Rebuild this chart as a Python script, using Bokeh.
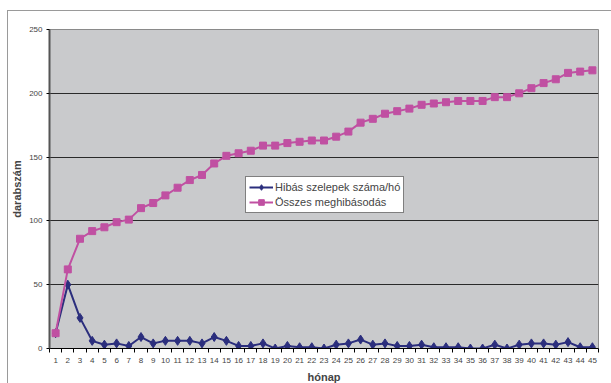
from bokeh.plotting import figure
from bokeh.models import FixedTicker, Legend, LegendItem, Range1d
from bokeh.embed import file_html
from bokeh.resources import INLINE

# Months 1..45
months = list(range(1, 46))

# Failed valves per month
hibas = [12, 50, 24, 6, 3, 4, 2, 9, 4, 6, 6, 6, 4, 9, 6, 2, 2, 4, 0, 2,
         1, 1, 0, 3, 4, 7, 3, 4, 2, 2, 3, 1, 1, 1, 0, 0, 3, 0, 3, 4,
         4, 3, 5, 1, 1]

# Cumulative failures
osszes = [12, 62, 86, 92, 95, 99, 101, 110, 114, 120, 126, 132, 136, 145, 151, 153, 155, 159, 159, 161,
          162, 163, 163, 166, 170, 177, 180, 184, 186, 188, 191, 192, 193, 194, 194, 194, 197, 197, 200, 204,
          208, 211, 216, 217, 218]

y_ticks = [0, 50, 100, 150, 200, 250]

FONT = "Liberation Sans"
BLUE = "#2b2e7d"
PINK = "#c050a2"

p = figure(
    frame_width=549, frame_height=319,
    output_backend="svg", toolbar_location=None,
    x_range=Range1d(0.5, 45.5), y_range=Range1d(0, 250),
    min_border_left=39, min_border_top=18, min_border_right=14, min_border_bottom=35,
    margin=(10, 0, 0, 7),
    styles={"border-left": "1px solid #9a9a9a", "border-top": "1px solid #9a9a9a"},
)

p.background_fill_color = "#c9cacc"
p.border_fill_color = "white"
p.outline_line_color = "#8a8a8a"
p.outline_line_width = 1

# Horizontal gridlines only
p.xgrid.grid_line_color = None
p.ygrid.ticker = FixedTicker(ticks=y_ticks)
p.ygrid.grid_line_color = "#2a2a2a"
p.ygrid.grid_line_width = 1

# Category-style x axis: labels at months, tick marks between them
p.xaxis.ticker = FixedTicker(ticks=months, minor_ticks=[m - 0.5 for m in months] + [45.5])
p.xaxis.major_tick_out = 0
p.xaxis.major_tick_in = 0
p.xaxis.minor_tick_out = 4
p.xaxis.minor_tick_in = 0
p.xaxis.minor_tick_line_color = "black"
p.xaxis.axis_line_color = "black"
p.xaxis.major_label_text_font = FONT
p.xaxis.major_label_text_font_size = "8px"
p.xaxis.major_label_standoff = 5
p.xaxis.axis_label = "hónap"
p.xaxis.axis_label_text_font = FONT
p.xaxis.axis_label_text_font_size = "11px"
p.xaxis.axis_label_text_font_style = "bold"
p.xaxis.axis_label_standoff = 5

p.yaxis.ticker = FixedTicker(ticks=y_ticks)
p.yaxis.minor_tick_line_color = None
p.yaxis.major_tick_out = 3
p.yaxis.major_tick_in = 0
p.yaxis.axis_line_color = "#555555"
p.yaxis.axis_line_width = 2
p.yaxis.major_label_text_font = FONT
p.yaxis.major_label_text_font_size = "8px"
p.yaxis.major_label_standoff = 4
p.yaxis.axis_label = "darabszám"
p.yaxis.axis_label_text_font = FONT
p.yaxis.axis_label_text_font_size = "11px"
p.yaxis.axis_label_text_font_style = "bold"
p.yaxis.axis_label_standoff = 3

# Series
l1 = p.line(months, hibas, line_color=BLUE, line_width=2)
m1 = p.scatter(months, hibas, marker="diamond", size=9, fill_color=BLUE, line_color=BLUE)
l2 = p.line(months, osszes, line_color=PINK, line_width=2)
m2 = p.scatter(months, osszes, marker="square", size=7, fill_color=PINK, line_color=PINK)

legend = Legend(
    items=[
        LegendItem(label="Hibás szelepek száma/hó", renderers=[l1, m1]),
        LegendItem(label="Összes meghibásodás", renderers=[l2, m2]),
    ],
    location=(196, 135),
    background_fill_color="white", background_fill_alpha=1,
    border_line_color="black", border_line_width=1,
    label_text_font=FONT, label_text_font_size="11px",
    label_height=14, glyph_height=14, glyph_width=24,
    label_standoff=2, spacing=1, padding=3, margin=0,
)
p.add_layout(legend, "center")

open("out.html", "w").write(file_html(p, INLINE))
